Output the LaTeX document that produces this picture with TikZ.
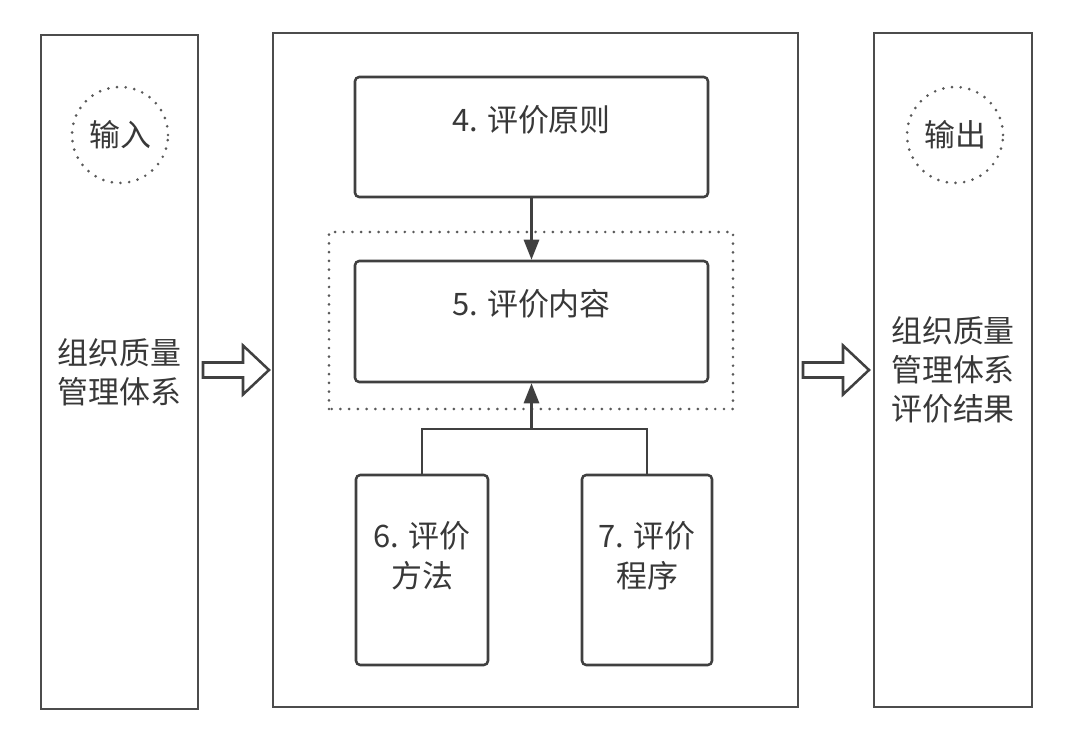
\documentclass[tikz,border=0pt]{standalone}
\usepackage{fontspec}
\setmainfont{Noto Sans CJK SC}
\usetikzlibrary{arrows.meta,positioning,calc}

\tikzset{
  frame/.style={draw=black!70,line width=2.1pt,minimum height=16.85cm,
    text=black!78,align=center,font=\fontsize{22}{27.5}\selectfont},
  box/.style={draw=black!75,line width=1.8pt,rounded corners=3pt},
  txt/.style={text=black!78,align=center,font=\fontsize{22}{28}\selectfont},
  dotcircle/.style={circle,draw=black!65,line width=2.1pt,line cap=round,
    dash pattern=on 0pt off 6.2pt,minimum size=2.4cm,text=black!78,
    font=\fontsize{22}{27}\selectfont},
  dotrect/.style={draw=black!65,line width=2.1pt,line cap=round,dash pattern=on 0pt off 6.2pt},
  conn/.style={draw=black!75,line width=1.6pt,-{Triangle[length=0.5cm,width=0.38cm]}},
  hollow/.style={draw=black!75,line width=1.8pt,fill=white,line join=miter}
}

\begin{document}
\begin{tikzpicture}
  \useasboundingbox (0,0) rectangle (27,18.5);
  % three columns
  \node[frame,minimum width=3.925cm] (lf) at (2.9875,9.2) {组织质量\\管理体系};
  \node[frame,minimum width=13.125cm] (cf) at (13.3875,9.25) {};
  \node[frame,minimum width=3.95cm] (rf) at (23.825,9.25) {组织质量\\管理体系\\评价结果};
  % input / output marks
  \node[dotcircle] (in) at (3.0,15.125) {输入};
  \node[dotcircle] (out) at (23.875,15.125) {输出};
  % hollow arrows between columns
  \foreach \sx in {5.075,20.075}
    \draw[hollow,shift={(\sx,9.25)}] (0,0.1875) -- (1,0.1875) -- (1,0.6125) -- (1.65,0)
      -- (1,-0.6125) -- (1,-0.1875) -- (0,-0.1875) -- cycle;
  % dotted group round item 5
  \draw[dotrect] (8.225,8.275) rectangle (18.325,12.7);
  % items
  \node[box,minimum width=8.825cm,minimum height=3cm] (b4) at (13.2875,15.075) {};
  \node[box,minimum width=8.825cm,minimum height=3.025cm] (b5) at (13.2875,10.4625) {};
  \node[box,minimum width=3.3cm,minimum height=4.75cm] (b6) at (10.55,4.25) {};
  \node[box,minimum width=3.25cm,minimum height=4.75cm] (b7) at (16.175,4.25) {};
  \node[txt] (t4) at ([yshift=0.42cm]b4.center) {4. 评价原则};
  \node[txt] (t5) at ([yshift=0.45cm]b5.center) {5. 评价内容};
  \node[txt] (t6) at ([yshift=0.36cm]b6.center) {6. 评价\\方法};
  \node[txt] (t7) at ([yshift=0.36cm]b7.center) {7. 评价\\程序};
  % connectors
  \coordinate (jn) at (13.2875,7.775);
  \draw[conn] (b4.south) -- (b5.north);
  \draw[draw=black!75,line width=1.6pt] (b6.north) |- (jn) -| (b7.north);
  \draw[conn] (jn) -- (b5.south);
\end{tikzpicture}
\end{document}
